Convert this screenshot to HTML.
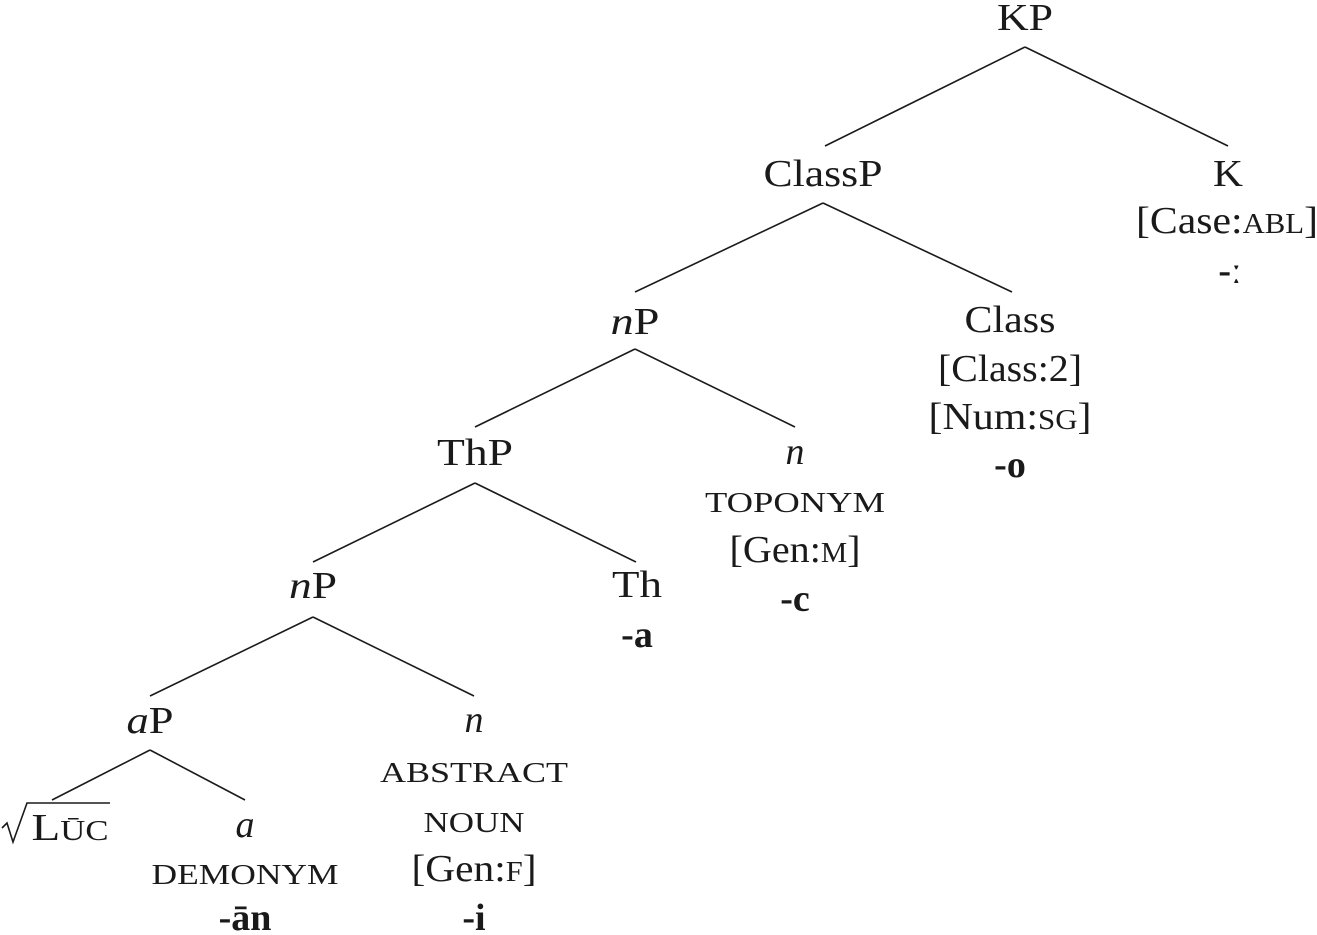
<!DOCTYPE html>
<html><head><meta charset="utf-8"><style>
html,body{margin:0;padding:0;background:#fff;}
svg{display:block;}
text{font-family:"Liberation Serif",serif;font-size:38px;fill:#1a1a1a;text-anchor:middle;}
.sc{font-size:28px;}
.b{font-weight:bold;}
.i{font-style:italic;}
line{stroke:#1a1a1a;stroke-width:1.6;}
</style></head><body>
<svg width="1317" height="935" viewBox="0 0 1317 935" xmlns="http://www.w3.org/2000/svg">
<line x1="1025" y1="47" x2="825" y2="146"/><line x1="1025" y1="47" x2="1228" y2="146"/>
<line x1="823" y1="203" x2="635" y2="292"/><line x1="823" y1="203" x2="1012" y2="292"/>
<line x1="635" y1="349" x2="475" y2="427"/><line x1="635" y1="349" x2="795" y2="427"/>
<line x1="475" y1="483" x2="313" y2="562"/><line x1="475" y1="483" x2="636" y2="562"/>
<line x1="313" y1="617" x2="150" y2="696"/><line x1="313" y1="617" x2="474" y2="696"/>
<line x1="150" y1="750" x2="52" y2="800"/><line x1="150" y1="750" x2="245" y2="800"/>

<text x="1025" y="30" textLength="56" lengthAdjust="spacingAndGlyphs">KP</text>
<text x="823" y="186" textLength="119" lengthAdjust="spacingAndGlyphs">ClassP</text>
<text x="1228" y="186" textLength="30" lengthAdjust="spacingAndGlyphs">K</text>
<text x="1227" y="233" textLength="182" lengthAdjust="spacingAndGlyphs">[Case:<tspan class="sc">ABL</tspan>]</text>
<text x="1230" y="283" class="b">-ː</text>

<text x="635" y="334" textLength="49" lengthAdjust="spacingAndGlyphs"><tspan class="i">n</tspan>P</text>
<text x="1010" y="332" textLength="91" lengthAdjust="spacingAndGlyphs">Class</text>
<text x="1010" y="381" textLength="144" lengthAdjust="spacingAndGlyphs">[Class:2]</text>
<text x="1010" y="429" textLength="163" lengthAdjust="spacingAndGlyphs">[Num:<tspan class="sc">SG</tspan>]</text>
<text x="1010" y="477" class="b">-o</text>

<text x="475" y="465" textLength="76" lengthAdjust="spacingAndGlyphs">ThP</text>
<text x="795" y="464" class="i">n</text>
<text x="795" y="512" class="sc" textLength="180" lengthAdjust="spacingAndGlyphs">TOPONYM</text>
<text x="795" y="562" textLength="131" lengthAdjust="spacingAndGlyphs">[Gen:<tspan class="sc">M</tspan>]</text>
<text x="795" y="611" class="b">-c</text>

<text x="313" y="598" textLength="48" lengthAdjust="spacingAndGlyphs"><tspan class="i">n</tspan>P</text>
<text x="637" y="597" textLength="50" lengthAdjust="spacingAndGlyphs">Th</text>
<text x="637" y="647" class="b">-a</text>

<text x="150" y="733" textLength="47" lengthAdjust="spacingAndGlyphs"><tspan class="i">a</tspan>P</text>
<text x="474" y="732" class="i">n</text>
<text x="474" y="782" class="sc" textLength="188" lengthAdjust="spacingAndGlyphs">ABSTRACT</text>
<text x="474" y="832" class="sc" textLength="101" lengthAdjust="spacingAndGlyphs">NOUN</text>
<text x="474" y="881" textLength="125" lengthAdjust="spacingAndGlyphs">[Gen:<tspan class="sc">F</tspan>]</text>
<text x="474" y="930" class="b">-i</text>

<path d="M2,828 L7,823 L13,842 L27,803 L110,803" fill="none" stroke="#1a1a1a" stroke-width="1.6"/>
<text x="70" y="840" textLength="77" lengthAdjust="spacingAndGlyphs">L<tspan class="sc">ŪC</tspan></text>
<text x="245" y="837" class="i">a</text>
<text x="245" y="884" class="sc" textLength="187" lengthAdjust="spacingAndGlyphs">DEMONYM</text>
<text x="245" y="930" class="b">-ān</text>
</svg>
</body></html>
